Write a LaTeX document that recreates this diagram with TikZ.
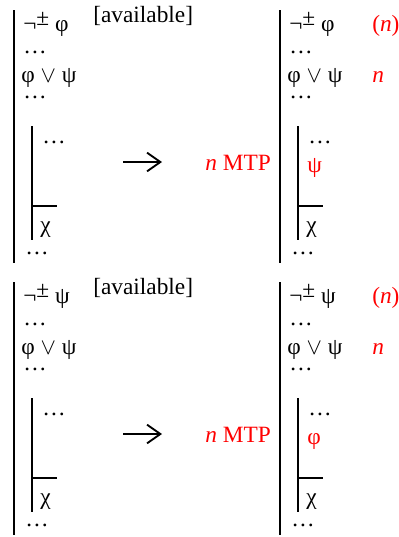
\documentclass[tikz,border=0pt]{standalone}
\usepackage{fontspec}
\setmainfont{Liberation Serif}
\usetikzlibrary{arrows.meta}

\newcommand{\pmneg}{¬\raisebox{4pt}{±}}

\begin{document}
\begin{tikzpicture}[x=0.75pt, y=-0.75pt,
	every node/.style={font=\fontsize{17.5}{21}\selectfont, inner sep=0pt, anchor=base west},
	ellip/.style={text height=3pt, text depth=0pt},
	bar/.style={line width=1.1pt},
	hint/.style={text=red},
	goes/.style={line width=2.2pt, -{Straight Barb[length=10pt, width=14pt, line width=1.4pt]}}]
	\useasboundingbox (0,0) rectangle (399,537);
	\foreach \p/\o/\f/\g in {u/0/φ/ψ, d/272/ψ/φ} {
		\begin{scope}[shift={(0,\o)}]
			% the proof before and after the step
			\foreach \s/\dx in {a/0, b/266} {
				\begin{scope}[shift={(\dx,0)}]
					\draw[bar] (14,10) -- (14,263);
					\node (neg\p\s) at (23,31) {\pmneg\ \f};
					\node[ellip] (dota\p\s) at (23,53) {…};
					\node (or\p\s) at (21,82) {φ $\vee$ ψ};
					\node[ellip] (dotb\p\s) at (23,98) {…};
					\draw[bar] (32,126) -- (32,240);
					\node[ellip] (dotc\p\s) at (42,143) {…};
					\draw[bar] (32,206) -- (57,206);
					\node (chi\p\s) at (40,232) {χ};
					\node[ellip] (dotd\p\s) at (25,254) {…};
				\end{scope}
			}
			\node (av\p) at (93,22) {[available]};
			\coordinate (from\p) at (123,162);
			\coordinate (to\p) at (162,162);
			\draw[goes] (from\p) -- (to\p);
			\node[hint] (rule\p) at (205,170) {\textit{n} MTP};
			\node[hint] (new\p) at (307,172) {\g};
			\node[hint] (cite\p) at (372,31) {(\textit{n})};
			\node[hint] (line\p) at (372,82) {\textit{n}};
		\end{scope}
	}
\end{tikzpicture}
\end{document}
